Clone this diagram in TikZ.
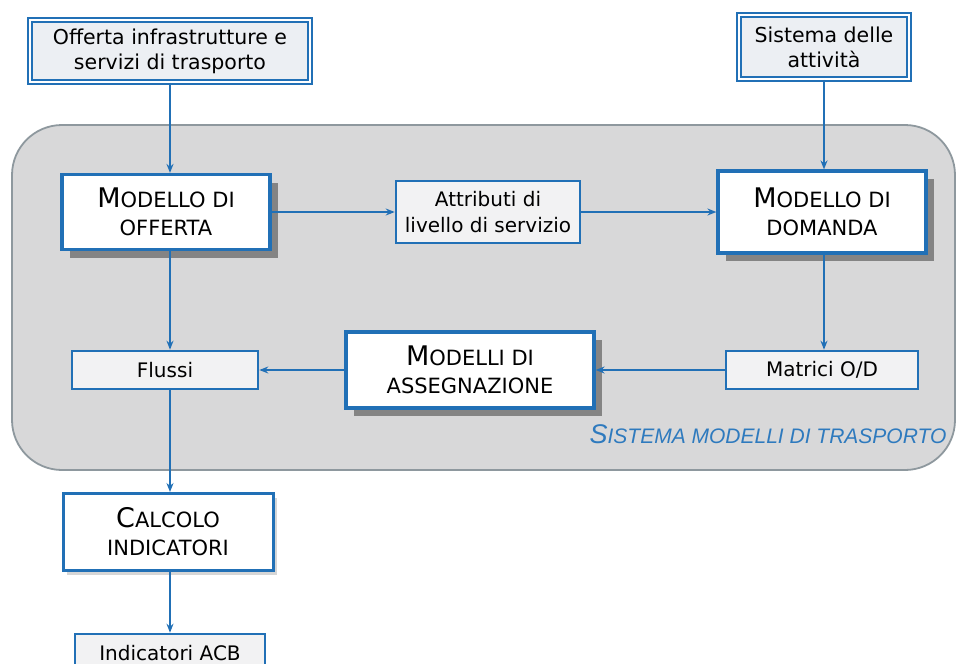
\documentclass[tikz,border=0pt]{standalone}
\usepackage{fontspec}
\setmainfont{DejaVu Sans}
\newfontfamily\titlefont{Liberation Sans}
\usetikzlibrary{
  arrows.meta,
  positioning,
  shadows
}
\definecolor{flowblue}{RGB}{33,112,182}
\definecolor{panelgray}{RGB}{216,216,217}
\definecolor{paneledge}{RGB}{142,152,158}
\definecolor{boxgray}{RGB}{242,242,243}
\definecolor{inputgray}{RGB}{236,239,243}
\definecolor{titleblue}{RGB}{46,122,190}
\newcommand{\bigini}[1]{{\fontsize{27}{24}\selectfont #1}}
\tikzset{
  inbox/.style={draw=flowblue,line width=1.7pt,double=white,double distance=1.8pt,
    fill=inputgray,align=center,inner sep=2pt,font=\fontsize{20.5}{25}\selectfont},
  model/.style={draw=flowblue,line width=3.2pt,fill=white,align=center,inner sep=2pt,
    font=\fontsize{21}{28}\selectfont,
    drop shadow={shadow xshift=8pt,shadow yshift=-8pt,fill=black!70,opacity=0.6}},
  result/.style={draw=flowblue,line width=3pt,fill=white,align=center,inner sep=2pt,
    font=\fontsize{21}{28}\selectfont,
    drop shadow={shadow xshift=4pt,shadow yshift=-4pt,fill=black!40,opacity=0.4}},
  info/.style={draw=flowblue,line width=2.6pt,fill=boxgray,align=center,inner sep=2pt,
    font=\fontsize{20}{26}\selectfont},
  panel/.style={draw=paneledge,line width=1.8pt,fill=panelgray,rounded corners=50pt},
  paneltitle/.style={text=titleblue,font=\titlefont\itshape\fontsize{21}{24}\selectfont},
  flow/.style={-{Stealth[length=9pt,width=7pt]},line width=2pt,draw=flowblue}
}
\begin{document}
\begin{tikzpicture}[x=1pt,y=-1pt]
  \useasboundingbox (0,0) rectangle (964,664);
  \node[panel,minimum width=943pt,minimum height=345pt] (sistema) at (483.5,297.5) {};
  \node[paneltitle] (sistematitle) at (768,434) {\bigini{S}ISTEMA MODELLI DI TRASPORTO};
  % ingressi
  \node[inbox,minimum width=280pt,minimum height=62pt] (offIn) at (170,51)
    {Offerta infrastrutture e\\servizi di trasporto};
  \node[inbox,minimum width=170pt,minimum height=64pt] (attIn) at (824,47)
    {Sistema delle\\attività};
  % modelli
  \node[model,minimum width=208pt,minimum height=75pt] (modOff) at (166,212)
    {\bigini{M}ODELLO DI\\OFFERTA};
  \node[info,minimum width=184pt,minimum height=62pt] (attrib) at (488,212)
    {Attributi di\\livello di servizio};
  \node[model,minimum width=208pt,minimum height=82pt] (modDom) at (822,212)
    {\bigini{M}ODELLO DI\\DOMANDA};
  \node[info,minimum width=186pt,minimum height=38pt] (flussi) at (165,370) {Flussi};
  \node[model,minimum width=248pt,minimum height=76pt] (modAss) at (470,370)
    {\bigini{M}ODELLI DI\\ASSEGNAZIONE};
  \node[info,minimum width=192pt,minimum height=38pt] (matrici) at (822,370) {Matrici O/D};
  % uscite
  \node[result,minimum width=210pt,minimum height=77pt] (calcolo) at (168,532)
    {\bigini{C}ALCOLO\\INDICATORI};
  \node[info,minimum width=190pt,minimum height=38pt] (indACB) at (170,653) {Indicatori ACB};
  \draw[flow] (offIn.south) -- (offIn.south |- modOff.north);
  \draw[flow] (attIn.south) -- (attIn.south |- modDom.north);
  \draw[flow] (modOff) -- (attrib);
  \draw[flow] (attrib) -- (modDom);
  \draw[flow] (modDom.south -| attIn.south) -- (attIn.south |- matrici.north);
  \draw[flow] (matrici) -- (modAss);
  \draw[flow] (modAss) -- (flussi);
  \draw[flow] (modOff.south -| offIn.south) -- (offIn.south |- flussi.north);
  \draw[flow] (flussi.south -| offIn.south) -- (offIn.south |- calcolo.north);
  \draw[flow] (calcolo.south -| indACB.north) -- (indACB.north);
\end{tikzpicture}
\end{document}
